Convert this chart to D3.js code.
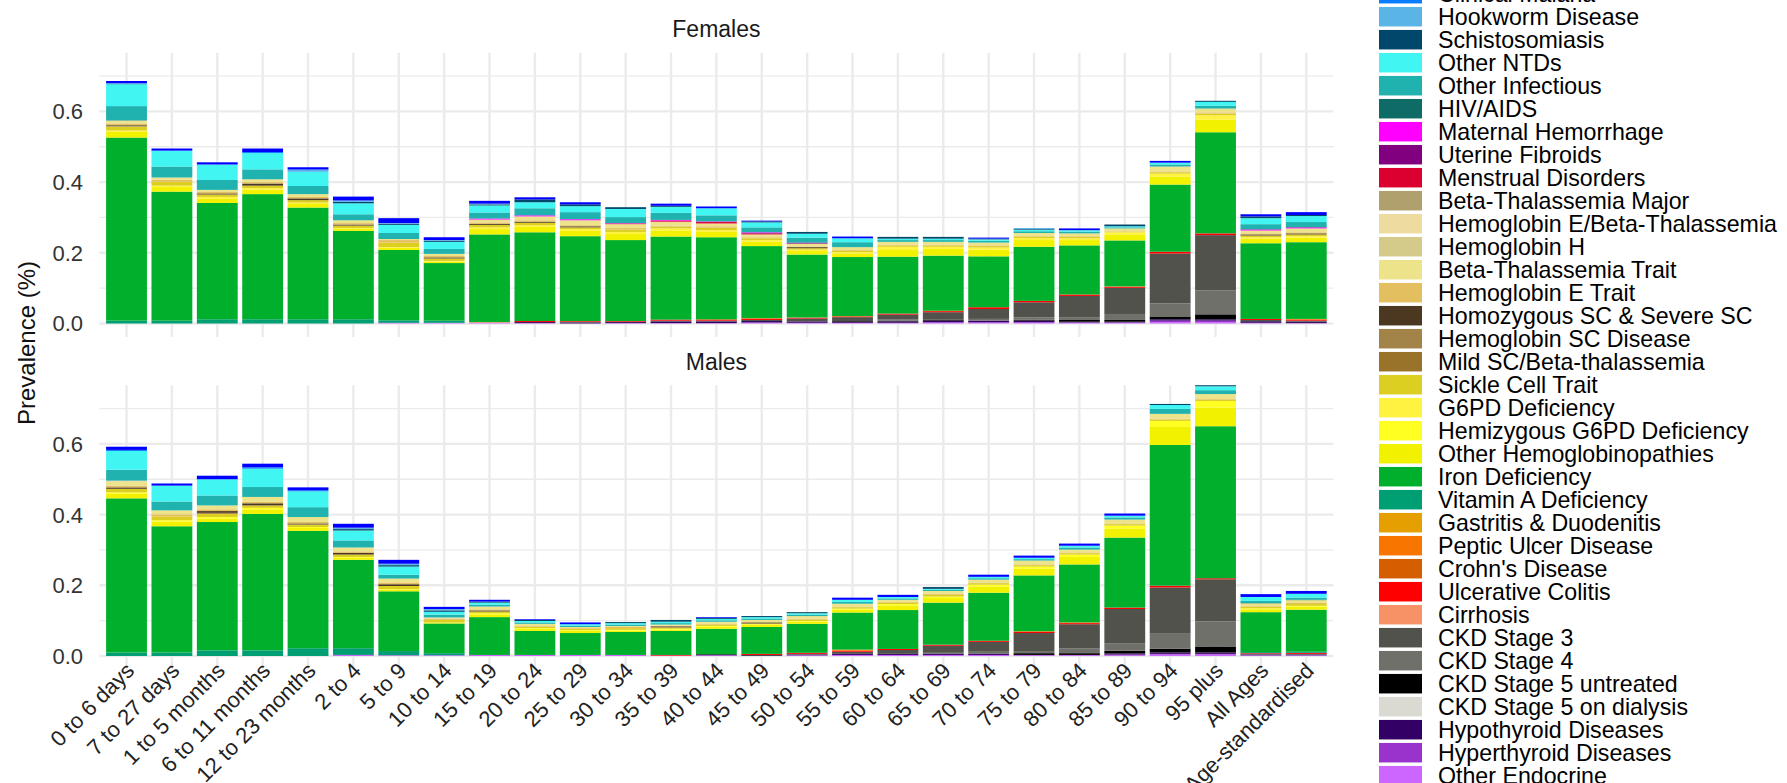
<!DOCTYPE html>
<html><head><meta charset="utf-8">
<script src="https://cdn.jsdelivr.net/npm/d3@7"></script>
<style>body{margin:0;background:#fff}svg{display:block;font-family:"Liberation Sans",Arial,Helvetica,sans-serif}</style>
</head><body><svg id="chart" width="1787" height="783"></svg>
<script>
const categories = ["0 to 6 days","7 to 27 days","1 to 5 months","6 to 11 months","12 to 23 months","2 to 4","5 to 9","10 to 14","15 to 19","20 to 24","25 to 29","30 to 34","35 to 39","40 to 44","45 to 49","50 to 54","55 to 59","60 to 64","65 to 69","70 to 74","75 to 79","80 to 84","85 to 89","90 to 94","95 plus","All Ages","Age-standardised"];
const sexes = ["Females","Males"];
const yTicks = [0, 0.2, 0.4, 0.6];
const yMinorTicks = [0.1, 0.3, 0.5, 0.7];

// series, in legend order (top of stack first)
const seriesNames = ["Subclinical Malaria","Clinical Malaria","Hookworm Disease","Schistosomiasis","Other NTDs","Other Infectious","HIV/AIDS","Maternal Hemorrhage","Uterine Fibroids","Menstrual Disorders","Beta-Thalassemia Major","Hemoglobin E/Beta-Thalassemia","Hemoglobin H","Beta-Thalassemia Trait","Hemoglobin E Trait","Homozygous SC & Severe SC","Hemoglobin SC Disease","Mild SC/Beta-thalassemia","Sickle Cell Trait","G6PD Deficiency","Hemizygous G6PD Deficiency","Other Hemoglobinopathies","Iron Deficiency","Vitamin A Deficiency","Gastritis & Duodenitis","Peptic Ulcer Disease","Crohn's Disease","Ulcerative Colitis","Cirrhosis","CKD Stage 3","CKD Stage 4","CKD Stage 5 untreated","CKD Stage 5 on dialysis","Hypothyroid Diseases","Hyperthyroid Diseases","Other Endocrine"];
const seriesColors = ["#0000FF","#0A7DFF","#5AB4E6","#00476B","#40F5F2","#20B2AE","#0E6B66","#FF00FF","#800080","#DC0030","#B0A06E","#EDDBA0","#D4CB8A","#EDE38A","#E3BF60","#4C3820","#A38448","#997329","#DCCF22","#FFF240","#FFFF22","#F2F200","#00B02C","#009E73","#E69F00","#F87500","#D55E00","#FF0000","#F79266","#52524C","#70706A","#000000","#DADAD2","#330066","#9933CC","#CC66FF"];

// values (proportion) per category, Females (F) and Males (M)
const subMalF = [.006,.006,.006,.010,.006,.011,.014,.008,.008,.006,.006,0,.006,.005,.002,0,.005,0,0,.003,0,.005,0,.005,0,.006,.008];
const subMalM = [.009,.006,.010,.010,.008,.011,.011,.006,.005,.002,.005,0,0,.002,0,0,.006,.006,0,.006,.006,.006,.006,0,0,.008,.008];
const clinMalF = [.001,0,.001,.003,.003,0,0,0,0,0,0,0,0,0,0,0,0,0,0,0,0,0,0,0,0,0,0];
const clinMalM = [.003,0,0,.004,.003,0,0,0,0,0,0,0,0,0,0,0,0,0,0,0,0,0,0,0,0,0,0];
const hookF = [.001,0,0,0,.004,.004,.002,.002,.002,0,0,0,0,0,0,0,0,0,0,0,.003,0,0,0,0,0,0];
const hookM = [0,0,0,0,0,.004,.004,.004,0,0,0,0,0,0,0,0,0,0,0,0,0,0,0,0,0,0,0];
const schistoF = [.001,0,0,0,0,.004,.003,.003,.003,.008,.005,.005,.003,0,.003,.005,0,.005,.005,.002,.002,0,.005,0,.003,.005,.003];
const schistoM = [0,0,0,0,0,.004,.004,.004,.003,.003,0,.003,.005,.003,.003,.003,0,0,.005,0,0,0,0,.003,.003,0,0];
const ntdF = [.062,.045,.043,.046,.040,.031,.023,.020,.020,.017,.017,.023,.017,.020,.014,.011,.011,.004,.004,.004,.004,.004,.003,.005,.011,.017,.017];
const ntdM = [.053,.045,.046,.052,.045,.028,.023,.008,.006,.004,.004,.004,.004,.004,.004,.004,.006,.004,.003,.004,.004,.005,.005,.011,.011,.011,.011];
const othInfF = [.040,.031,.028,.028,.023,.017,.017,.014,.017,.020,.020,.017,.020,.017,.014,.014,.014,.005,.005,.005,.005,.005,.003,.006,.008,.014,.014];
const othInfM = [.031,.025,.028,.028,.028,.020,.011,.008,.005,.004,.004,.004,.004,.004,.004,.004,.005,.004,.003,.004,.004,.006,.006,.014,.011,.006,.006];
const hivF = [.001,0,0,0,0,0,0,0,0,0,0,0,0,0,0,0,0,0,0,0,0,0,0,0,0,.001,.001];
const hivM = [0,0,0,0,0,0,0,0,0,0,0,0,0,0,0,0,0,0,0,0,0,0,0,0,0,.001,.001];
const matHemF = [0,0,0,0,0,0,0,0,.003,.003,.003,.001,.002,.001,.002,0,0,0,0,0,0,0,0,0,0,.003,.003];
const matHemM = [0,0,0,0,0,0,0,0,0,0,0,0,0,0,0,0,0,0,0,0,0,0,0,0,0,0,0];
const fibroidF = [0,0,0,0,0,0,0,0,0,0,0,0,0,.001,.001,.003,0,0,0,0,0,0,0,0,0,0,0];
const fibroidM = [0,0,0,0,0,0,0,0,0,0,0,0,0,0,0,0,0,0,0,0,0,0,0,0,0,0,0];
const menstF = [0,0,0,0,0,0,0,0,0,0,0,.002,.003,.004,.003,0,0,0,0,0,0,0,0,0,0,0,0];
const menstM = [0,0,0,0,0,0,0,0,0,0,0,0,0,0,0,0,0,0,0,0,0,0,0,0,0,0,0];
const btMajorF = [0,0,0,0,0,0,0,0,0,0,0,0,0,0,0,0,0,0,0,0,0,0,0,0,0,0,0];
const btMajorM = [0,0,0,0,0,0,0,0,0,0,0,0,0,0,0,0,0,0,0,0,0,0,0,0,0,0,0];
const hbeBtF = [0,0,0,0,0,0,0,0,0,0,0,0,0,0,0,0,0,0,0,0,0,0,0,0,0,0,0];
const hbeBtM = [.004,0,0,0,0,0,0,0,0,0,0,0,0,0,0,0,0,0,0,0,0,0,0,0,0,0,0];
const hbhF = [0,0,0,0,0,0,0,0,0,0,0,0,0,0,0,0,0,0,0,0,0,0,0,0,0,0,0];
const hbhM = [0,0,0,0,0,0,0,0,0,0,0,0,0,0,0,0,0,0,0,0,0,0,0,0,0,0,0];
const btTraitF = [.008,.006,.006,.008,.008,.008,.003,.006,.008,.011,.014,.011,.011,.008,.008,.008,.008,.008,.008,.008,.008,.008,.008,.014,.011,.008,.011];
const btTraitM = [.010,.011,.011,.014,.014,.011,.011,.003,.008,.006,.003,.003,.003,.006,.006,.008,.008,.006,.008,.008,.011,.008,.011,.014,.014,.008,.008];
const hbeTraitF = [.005,.006,.004,.004,.004,.004,.007,.004,.004,.004,.003,.004,.003,.004,.003,.002,.002,.002,.002,.002,.002,.002,.001,.002,.003,.003,.003];
const hbeTraitM = [.005,.006,.005,.004,.004,.004,.005,.004,.003,.002,.002,.003,.002,.002,.001,.002,.002,.002,.003,.002,.002,.002,.002,.002,.002,.002,.003];
const homSCF = [.002,0,.003,.006,.005,.003,0,.003,.003,.003,.003,0,0,0,0,.003,0,0,0,0,0,0,0,0,0,.003,.003];
const homSCM = [.004,0,.005,.006,.003,.005,.005,0,.003,0,0,0,.003,0,.003,0,0,0,0,0,0,0,0,0,0,0,0];
const hbSCF = [.002,0,0,0,0,0,0,0,0,0,0,0,0,0,0,0,0,0,0,0,0,0,0,0,0,0,0];
const hbSCM = [0,0,.003,0,0,0,0,0,0,0,0,0,0,0,0,0,0,0,0,0,0,0,0,0,0,0,0];
const mildSCF = [0,0,0,0,0,0,0,0,0,0,0,0,0,0,0,0,0,0,0,0,0,0,0,0,0,0,0];
const mildSCM = [0,0,0,0,0,0,0,0,0,0,0,0,0,0,0,0,0,0,0,0,0,0,0,0,0,0,0];
const sickleF = [.011,.011,.007,.007,.007,.007,.013,.007,.007,.007,.005,.007,.005,.007,.005,.004,.004,.004,.004,.004,.004,.004,.002,.004,.005,.005,.005];
const sickleM = [.010,.011,.009,.007,.007,.007,.009,.007,.005,.004,.004,.005,.004,.004,.002,.004,.004,.004,.005,.004,.004,.004,.004,.004,.004,.004,.005];
const g6pdF = [.004,.004,.004,.004,.004,.002,.002,.002,.005,.005,.005,.006,.006,.005,.004,.004,.004,.007,.006,.006,.006,.005,.006,.008,.012,.004,.004];
const g6pdM = [0,0,0,0,0,0,0,0,0,0,0,0,0,0,0,0,0,0,0,0,0,0,0,0,0,0,0];
const hemiF = [0,0,0,0,0,0,0,0,0,0,0,0,0,0,0,0,0,0,0,0,0,0,0,0,0,0,0];
const hemiM = [.004,.004,.004,.004,.003,.002,.002,0,.003,.002,.002,.002,.002,.002,.002,.002,.003,.004,.004,.006,.006,.007,.008,.017,.018,.003,.003];
const othHgbF = [.016,.013,.013,.013,.010,.006,.006,.004,.015,.015,.015,.017,.017,.015,.013,.010,.010,.021,.019,.019,.019,.015,.017,.023,.036,.013,.013];
const othHgbM = [.013,.013,.010,.013,.008,.006,.004,.003,.008,.006,.006,.004,.004,.006,.006,.006,.008,.013,.013,.017,.019,.021,.026,.051,.053,.008,.008];
const ironF = [.518,.365,.329,.354,.316,.250,.199,.163,.248,.251,.240,.229,.235,.232,.204,.178,.167,.161,.156,.144,.153,.139,.130,.190,.286,.214,.217];
const ironM = [.436,.357,.363,.386,.332,.250,.169,.084,.107,.068,.062,.065,.068,.072,.076,.082,.105,.110,.119,.136,.158,.164,.198,.398,.430,.113,.119];
const vitAF = [.008,.008,.012,.012,.012,.012,.007,.006,0,0,0,0,0,0,0,0,0,0,0,0,0,0,0,0,0,0,0];
const vitAM = [.010,.010,.016,.016,.022,.019,.012,.006,0,0,0,0,0,0,0,0,0,0,0,0,0,0,0,0,0,.003,.003];
const gastritisF = [0,0,0,0,0,0,0,0,0,0,0,0,0,0,0,0,0,0,0,0,0,0,0,0,0,0,0];
const gastritisM = [0,0,0,0,0,0,0,0,0,0,0,0,0,0,0,0,0,0,0,0,0,0,0,0,0,0,0];
const pepticF = [0,0,0,0,0,0,0,0,0,0,0,0,0,0,.002,.001,.001,0,.001,0,0,0,.001,0,0,0,.002];
const pepticM = [0,0,0,0,0,0,0,0,0,0,0,0,0,0,0,0,.003,0,0,0,.002,.002,0,0,0,0,0];
const crohnF = [0,0,0,0,0,0,0,0,0,0,0,0,0,.002,0,0,0,0,0,0,0,0,0,0,0,0,0];
const crohnM = [0,0,0,0,0,0,0,0,0,0,0,0,0,0,0,0,0,0,0,0,0,0,0,0,0,0,0];
const ucF = [0,0,0,0,0,0,0,0,0,.003,.002,.002,.003,.002,.003,.002,.002,.003,.003,.005,.004,.004,.003,.005,.005,.003,.003];
const ucM = [0,0,0,0,0,0,0,0,0,0,0,0,.002,0,.003,.003,.003,.003,.003,.003,.003,.003,.004,.005,.003,.002,.003];
const cirrhosisF = [0,0,0,0,0,0,0,0,.002,0,0,0,0,0,0,0,0,0,0,0,0,0,0,0,0,0,0];
const cirrhosisM = [0,0,0,0,0,0,0,0,0,0,0,0,0,0,0,0,0,0,0,0,0,0,0,0,0,0,0];
const ckd3F = [0,0,0,0,0,0,0,0,0,0,.002,.001,.002,.002,.003,.008,.011,.014,.021,.028,.043,.060,.074,.141,.156,.003,.003];
const ckd3M = [0,0,0,0,0,0,0,0,0,0,0,0,0,0,0,.002,.006,.011,.020,.028,.051,.068,.098,.131,.119,.002,.002];
const ckd4F = [0,0,0,0,0,0,0,0,0,0,0,0,0,0,0,0,0,.003,0,.005,.006,.008,.017,.037,.068,0,0];
const ckd4M = [0,0,0,0,0,0,0,0,0,0,0,0,0,0,0,0,0,0,.003,.006,.006,.014,.020,.042,.071,0,0];
const ckd5uF = [0,0,0,0,0,0,0,0,0,0,0,0,0,0,0,0,.002,.002,.003,0,.003,.005,.005,.008,.014,.001,.001];
const ckd5uM = [0,0,0,0,0,0,0,0,0,0,0,0,0,.002,.002,0,0,0,0,0,.005,.005,.008,.011,.017,0,0];
const ckd5dF = [0,0,0,0,0,0,0,0,0,0,0,0,0,0,0,0,0,0,0,0,0,0,0,0,0,0,0];
const ckd5dM = [0,0,0,0,0,0,0,0,0,0,0,0,0,0,0,0,0,0,0,0,0,0,0,0,0,0,0];
const hypoF = [0,0,0,0,0,0,0,0,0,.003,.003,.003,.005,.005,.004,.004,.003,.004,.004,.004,.004,.002,.002,.004,.004,.004,.003];
const hypoM = [0,0,0,0,0,0,0,0,0,0,0,0,0,.001,0,.002,.003,.003,.003,.003,0,0,.003,.004,.004,.002,.002];
const hyperF = [0,0,0,0,0,0,0,0,0,0,0,0,0,0,.001,0,0,0,.002,.002,.002,.001,.001,.004,.004,0,0];
const hyperM = [0,0,0,0,0,0,0,0,0,0,0,0,0,0,0,0,0,0,0,0,.001,.001,.002,.002,.002,0,0];
const othEndoF = [0,0,0,0,0,0,.002,.002,.002,.001,0,.001,.001,.001,.002,.002,.002,.002,.002,.002,.002,.002,.002,.004,.004,.002,.001];
const othEndoM = [0,0,0,0,0,.003,.002,.002,.003,.003,.003,.003,.001,.002,.001,.002,.003,.003,.003,.003,.002,.002,.002,.004,.004,.002,.002];

const femaleSeries = [subMalF,clinMalF,hookF,schistoF,ntdF,othInfF,hivF,matHemF,fibroidF,menstF,btMajorF,hbeBtF,hbhF,btTraitF,hbeTraitF,homSCF,hbSCF,mildSCF,sickleF,g6pdF,hemiF,othHgbF,ironF,vitAF,gastritisF,pepticF,crohnF,ucF,cirrhosisF,ckd3F,ckd4F,ckd5uF,ckd5dF,hypoF,hyperF,othEndoF];
const maleSeries = [subMalM,clinMalM,hookM,schistoM,ntdM,othInfM,hivM,matHemM,fibroidM,menstM,btMajorM,hbeBtM,hbhM,btTraitM,hbeTraitM,homSCM,hbSCM,mildSCM,sickleM,g6pdM,hemiM,othHgbM,ironM,vitAM,gastritisM,pepticM,crohnM,ucM,cirrhosisM,ckd3M,ckd4M,ckd5uM,ckd5dM,hypoM,hyperM,othEndoM];

const svg = d3.select("#chart");
const color = d3.scaleOrdinal().domain(seriesNames).range(seriesColors);
const x = d3.scaleBand().domain(categories).range([99.3, 1333.5]).paddingInner(0.1).paddingOuter(0.15);
const pxPerUnit = 353.5;
const yLo = -0.0383, yHi = 0.766;
const panels = [
  {sex: sexes[0], base: 323.5, values: femaleSeries, stripY: 37.3},
  {sex: sexes[1], base: 656, values: maleSeries, stripY: 369.8}
];

function rows(values){
  return categories.map((c, i) => {
    const r = {category: c};
    seriesNames.forEach((s, k) => r[s] = values[k][i]);
    return r;
  });
}
const stackKeys = seriesNames.slice().reverse(); // last legend item at the bottom
const stack = d3.stack().keys(stackKeys);

panels.forEach((p, pi) => {
  const y = d3.scaleLinear().domain([yLo, yHi]).range([p.base - yLo * pxPerUnit, p.base - yHi * pxPerUnit]);
  const g = svg.append("g");
  const [top, bot] = [y(yHi), y(yLo)];
  g.selectAll(".minor").data(yMinorTicks).join("line")
    .attr("x1", 99.3).attr("x2", 1333.5).attr("y1", d => y(d)).attr("y2", d => y(d))
    .attr("stroke", "#EBEBEB").attr("stroke-width", 1.3);
  g.selectAll(".major").data(yTicks).join("line")
    .attr("x1", 99.3).attr("x2", 1333.5).attr("y1", d => y(d)).attr("y2", d => y(d))
    .attr("stroke", "#EBEBEB").attr("stroke-width", 2.4);
  g.selectAll(".vgrid").data(categories).join("line")
    .attr("x1", d => x(d) + x.bandwidth() / 2).attr("x2", d => x(d) + x.bandwidth() / 2)
    .attr("y1", top).attr("y2", bot)
    .attr("stroke", "#EBEBEB").attr("stroke-width", 2.4);
  const st = stack(rows(p.values));
  g.selectAll(".layer").data(st).join("g")
    .attr("fill", d => color(d.key))
    .selectAll("rect").data(d => d).join("rect")
    .attr("x", d => x(d.data.category))
    .attr("width", x.bandwidth())
    .attr("y", d => y(d[1]))
    .attr("height", d => Math.max(0, y(d[0]) - y(d[1])));
  g.selectAll(".ylab").data(yTicks).join("text")
    .attr("x", 83).attr("y", d => y(d)).attr("dy", "0.36em")
    .attr("text-anchor", "end").attr("font-size", 22).attr("fill", "#333")
    .text(d => d3.format(".1f")(d));
  g.append("text").attr("x", (99.3 + 1333.5) / 2).attr("y", p.stripY)
    .attr("text-anchor", "middle").attr("font-size", 23).attr("fill", "#1A1A1A").text(p.sex);
  if (pi === 1) {
    g.selectAll(".xlab").data(categories).join("text")
      .attr("transform", d => `translate(${x(d) + x.bandwidth() / 2 + 9},672) rotate(-45)`)
      .attr("text-anchor", "end").attr("font-size", 22).attr("fill", "#222")
      .text(d => d);
  }
});

svg.append("text").attr("transform", "translate(35,343) rotate(-90)")
  .attr("text-anchor", "middle").attr("font-size", 24).attr("fill", "#111").text("Prevalence (%)");

const leg = svg.append("g");
const legItems = leg.selectAll("g").data(seriesNames).join("g")
  .attr("transform", (d, i) => `translate(1379,${-29.3 + 23 * i})`);
legItems.append("rect").attr("x", 0).attr("y", -9.75).attr("width", 43).attr("height", 19.5)
  .attr("fill", d => color(d));
legItems.append("text").attr("x", 59).attr("y", 7.8).attr("font-size", 23.2).attr("fill", "#000").text(d => d);
</script></body></html>
